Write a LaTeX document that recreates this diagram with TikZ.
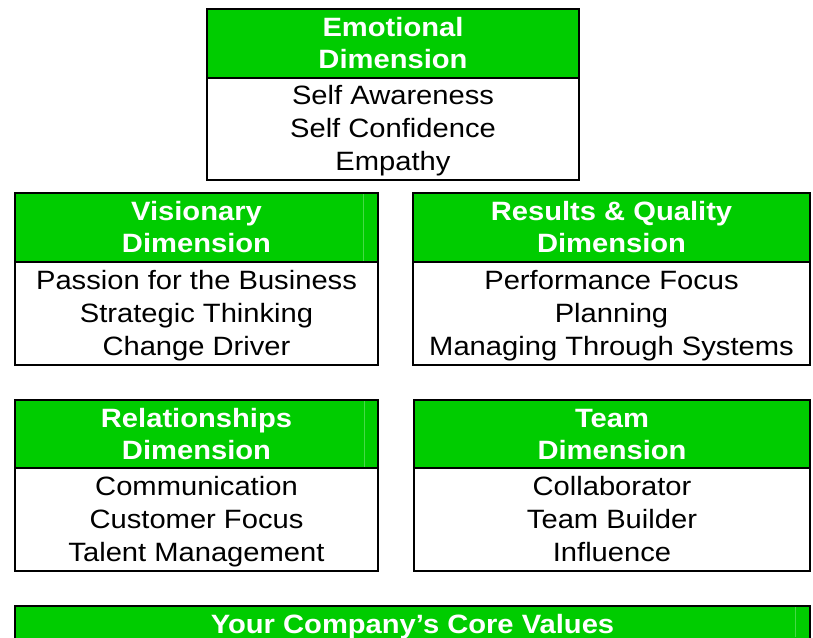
\documentclass[tikz,border=0pt]{standalone}
\usepackage{fontspec}
\setmainfont{Liberation Sans}[FakeStretch=1.1]
\definecolor{hdrgreen}{RGB}{0,204,0}
\definecolor{faintgreen}{RGB}{70,218,70}
\begin{document}
\begin{tikzpicture}[x=1pt,y=-1pt,
  hdrcell/.style={fill=hdrgreen, draw=black, line width=2pt},
  bodycell/.style={fill=white, draw=black, line width=2pt},
  hdrtext/.style={text=white, font=\fontsize{26.5}{32}\selectfont\bfseries, align=center, inner sep=0pt},
  bodytext/.style={text=black, font=\fontsize{26.5}{33}\selectfont, align=center, inner sep=0pt},
  faint/.style={draw=faintgreen, line width=0.8pt}]
\useasboundingbox (0,0) rectangle (813,637);
\clip (0,0) rectangle (813,637);
\fill[white] (0,0) rectangle (813,637);

% Emotional
\draw[hdrcell] (207,9) rectangle (579,78);
\draw[bodycell] (207,78) rectangle (579,180);
\node[hdrtext] (emoH) at (393,46.2) {\strut Emotional\\Dimension\strut};
\node[bodytext] (emoB) at (393,131.2) {\strut Self Awareness\\Self Confidence\\Empathy\strut};

% Visionary
\draw[hdrcell] (15,193) rectangle (378,262);
\draw[faint] (363,194) -- (363,261);
\draw[bodycell] (15,262) rectangle (378,364.5);
\node[hdrtext] (visH) at (196.5,230.2) {\strut Visionary\\Dimension\strut};
\node[bodytext] (visB) at (196.5,315.4) {\strut Passion for the Business\\Strategic Thinking\\Change Driver\strut};

% Results & Quality
\draw[hdrcell] (413,193) rectangle (810,262);
\draw[bodycell] (413,262) rectangle (810,364.5);
\node[hdrtext] (resH) at (611.5,230.2) {\strut Results \& Quality\\Dimension\strut};
\node[bodytext] (resB) at (611.5,315.4) {\strut Performance Focus\\Planning\\Managing Through Systems\strut};

% Relationships
\draw[hdrcell] (15,400) rectangle (378,468);
\draw[faint] (364,401) -- (364,467);
\draw[bodycell] (15,468) rectangle (378,571);
\node[hdrtext] (relH) at (196.5,436.8) {\strut Relationships\\Dimension\strut};
\node[bodytext] (relB) at (196.5,521.5) {\strut Communication\\Customer Focus\\Talent Management\strut};

% Team
\draw[hdrcell] (414,400) rectangle (810,468);
\draw[bodycell] (414,468) rectangle (810,571);
\node[hdrtext] (teamH) at (612,436.8) {\strut Team\\Dimension\strut};
\node[bodytext] (teamB) at (612,521.5) {\strut Collaborator\\Team Builder\\Influence\strut};

% Core values
\draw[hdrcell] (15,606) rectangle (810,680);
\draw[faint] (795,607) -- (795,637);
\node[hdrtext, anchor=base] (core) at (412.5,633) {Your Company’s Core Values};
\end{tikzpicture}
\end{document}
